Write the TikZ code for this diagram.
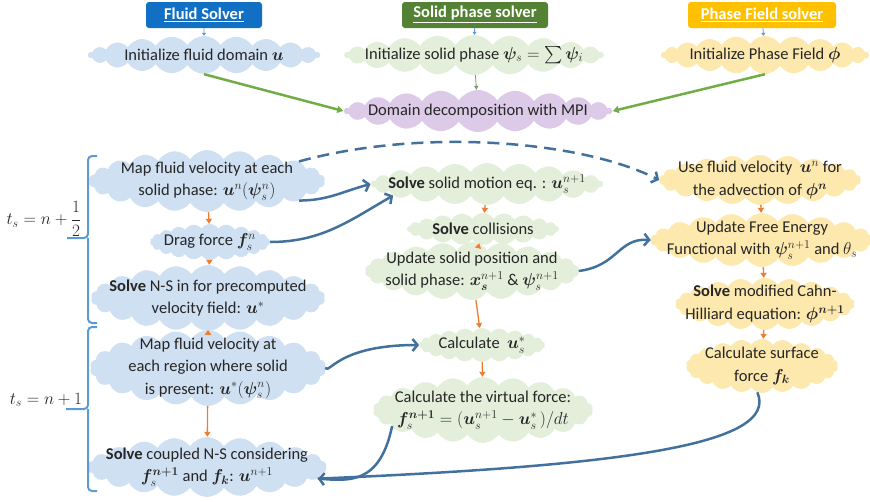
\documentclass[tikz,border=0pt]{standalone}
\usepackage{fontspec}
\setmainfont{Carlito}
\usepackage{amsmath}
\usepackage{bm}
\usetikzlibrary{shapes.symbols,arrows.meta}
\definecolor{headblue}{HTML}{1270C4}
\definecolor{headgreen}{HTML}{548235}
\definecolor{headgold}{HTML}{FFC000}
\definecolor{cloudblue}{HTML}{CFE0F2}
\definecolor{cloudgreen}{HTML}{E3EFDA}
\definecolor{cloudgold}{HTML}{FDE8AE}
\definecolor{cloudlilac}{HTML}{DCCAE8}
\definecolor{flowblue}{HTML}{41719C}
\definecolor{bracketblue}{HTML}{5B9BD5}
\definecolor{nextorange}{HTML}{ED7D31}
\definecolor{mpigreen}{HTML}{70AD47}
\begin{document}
\begin{tikzpicture}[x=1pt,y=-1pt]
  \tikzstyle{every node}=[font=\fontsize{16.5}{22.5}\selectfont,text=black!85,align=center]
  \tikzstyle{puff}=[cloud,cloud puffs=22,cloud puff arc=115,cloud ignores aspect,inner xsep=-16pt,inner ysep=-14pt]
  \tikzstyle{fluidcloud}=[puff,fill=cloudblue]
  \tikzstyle{solidcloud}=[puff,fill=cloudgreen]
  \tikzstyle{phasecloud}=[puff,fill=cloudgold]
  \tikzstyle{header}=[rounded corners=3pt,minimum height=26pt,text=white,font=\fontsize{16.5}{18}\selectfont\bfseries]
  \tikzstyle{flow}=[draw=flowblue,line width=2.5pt,-{Straight Barb[length=5pt,width=12pt]}]
  \tikzstyle{nextarrow}=[draw=nextorange,line width=1.3pt,-{Triangle[length=5pt,width=6pt]}]
  \tikzstyle{mpiarrow}=[draw=mpigreen,line width=2.5pt,-{Triangle[length=6pt,width=7pt]}]
  \tikzstyle{headarrow}=[draw=bracketblue,line width=0.8pt,-{Triangle[length=3pt,width=4pt]}]
  \tikzstyle{bracket}=[draw=bracketblue,line width=2pt,rounded corners=4pt]
  \useasboundingbox (0,0) rectangle (870,501);

  \node[header,fill=headblue,minimum width=116pt] (fluidhead) at (204,15) {\underline{Fluid Solver}};
  \node[header,fill=headgreen,minimum width=146pt] (solidhead) at (475,15) {\underline{Solid phase solver}};
  \node[header,fill=headgold,minimum width=148pt] (phasehead) at (762,15) {\underline{Phase Field solver}};

  \node[fluidcloud,minimum width=232pt,minimum height=38pt] (fluidinit) at (204,55) {Initialize fluid domain $\bm{u}$};
  \node[solidcloud,minimum width=258pt,minimum height=40pt] (solidinit) at (474,55) {Initialize solid phase $\bm{\psi}_s=\sum\bm{\psi}_i$};
  \node[phasecloud,minimum width=208pt,minimum height=38pt] (phaseinit) at (765,55) {Initialize Phase Field $\bm{\phi}$};
  \node[puff,fill=cloudlilac,minimum width=268pt,minimum height=42pt] (mpi) at (478,111) {Domain decomposition with MPI};

  \node[fluidcloud,minimum width=236pt,minimum height=62pt] (mapvel) at (207,181) {Map fluid velocity at each\\solid phase: $\bm{u}^n(\bm{\psi}_s^n)$};
  \node[fluidcloud,minimum width=120pt,minimum height=36pt] (drag) at (210,242) {Drag force $\bm{f}_s^n$};
  \node[fluidcloud,minimum width=234pt,minimum height=66pt] (nsstar) at (208,298) {\textbf{Solve} N-S in for precomputed\\velocity field: $\bm{u}^*$};
  \node[fluidcloud,minimum width=236pt,minimum height=76pt] (mapreg) at (208,368) {Map fluid velocity at\\each region where solid\\is present: $\bm{u}^*(\bm{\psi}_s^n)$};
  \node[fluidcloud,minimum width=234pt,minimum height=60pt] (nscoupled) at (207,467) {\textbf{Solve} coupled N-S considering\\$\bm{f}_s^{\bm{n+1}}$ and $\bm{f_k}$: $\bm{u}^{n+1}$};

  \node[solidcloud,minimum width=232pt,minimum height=42pt] (solmot) at (487,184) {\textbf{Solve} solid motion eq. : $\bm{u}_s^{n+1}$};
  \node[solidcloud,minimum width=152pt,minimum height=32pt] (collis) at (483,229) {\textbf{Solve} collisions};
  \node[solidcloud,minimum width=214pt,minimum height=58pt] (updsol) at (472,271) {Update solid position and\\solid phase: $\bm{x_s}^{n+1}$ \& $\bm{\psi}_s^{n+1}$};
  \node[solidcloud,minimum width=126pt,minimum height=34pt] (calcus) at (482,345) {Calculate \ $\bm{u}_s^*$};
  \node[solidcloud,minimum width=220pt,minimum height=66pt] (virtf) at (483,410) {Calculate the virtual force:\\$\bm{f}_s^{\bm{n+1}}=(\bm{u}_s^{n+1}-\bm{u}_s^*\,)/dt$};

  \node[phasecloud,minimum width=202pt,minimum height=50pt] (advect) at (760,180) {Use fluid velocity \ $\bm{u}^n$ for\\the advection of $\bm{\phi^n}$};
  \node[phasecloud,minimum width=216pt,minimum height=54pt] (freeen) at (762,240) {Update Free Energy\\Functional with $\bm{\psi}_s^{n+1}$ and $\theta_s$};
  \node[phasecloud,minimum width=172pt,minimum height=52pt] (cahn) at (765,304) {\textbf{Solve} modified Cahn-\\Hilliard equation: $\bm{\phi}^{\bm{n+1}}$};
  \node[phasecloud,minimum width=152pt,minimum height=54pt] (surff) at (762,366) {Calculate surface\\force $\bm{f_k}$};

  \node[font=\fontsize{18}{22}\selectfont] (halfstep) at (44,219) {$t_s=n+\dfrac{1}{2}$};
  \node[font=\fontsize{18}{22}\selectfont] (fullstep) at (46,400) {$t_s=n+1$};
  \draw[bracket] (97,156) -| (88,238) -- (67,238) (88,238) |- (97,323);
  \draw[bracket] (97,327) -| (88,409) -- (66,409) (88,409) |- (97,491);

  \draw[headarrow] (fluidhead) -- (fluidinit);
  \draw[headarrow] (solidhead) -- (solidinit);
  \draw[headarrow] (phasehead) -- (phaseinit);
  \draw[mpiarrow] (fluidinit.south) -- (mpi.west);
  \draw[mpiarrow] (phaseinit.south) -- (mpi.east);
  \draw[draw=mpigreen!60!gray,line width=0.8pt,-{Triangle[length=4pt,width=4pt]}] (solidinit) -- (mpi);

  \draw[nextarrow] (mapvel) -- (drag);
  \draw[nextarrow] (drag) -- (nsstar);
  \draw[nextarrow] (nsstar) -- (mapreg);
  \draw[nextarrow] (mapreg) -- (nscoupled);
  \draw[nextarrow] (solmot) -- (collis);
  \draw[nextarrow] (collis) -- (updsol);
  \draw[nextarrow] (updsol) -- (calcus);
  \draw[nextarrow] (calcus) -- (virtf);
  \draw[nextarrow] (advect) -- (freeen);
  \draw[nextarrow] (freeen) -- (cahn);
  \draw[nextarrow] (cahn) -- (surff);

  \draw[flow,dashed,dash pattern=on 12pt off 7pt] (mapvel.12) .. controls (420,128) and (580,140) .. (advect.west);
  \draw[flow] (mapvel.-12) to[out=0,in=195] (solmot.west);
  \draw[flow] (drag.east) to[out=0,in=210] (solmot.187);
  \draw[flow] (updsol.east) .. controls (618,266) and (618,238) .. (freeen.west);
  \draw[flow] (mapreg.east) .. controls (330,374) and (338,345) .. (calcus.west);
  \draw[flow] (virtf.190) .. controls (380,484) and (350,481) .. (nscoupled.-6);
  \draw[flow,-] (surff.260) .. controls (780,445) and (620,466) .. (nscoupled.-6);
\end{tikzpicture}
\end{document}
